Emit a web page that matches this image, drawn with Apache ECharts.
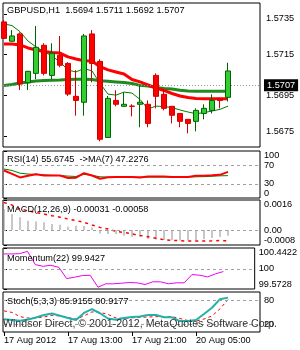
<!DOCTYPE html>
<html>
<head>
<meta charset="utf-8">
<script src="https://cdn.jsdelivr.net/npm/echarts@6/dist/echarts.min.js"></script>
<style>
  html, body { margin: 0; padding: 0; background: #fff; }
  #chart { width: 300px; height: 350px; }
</style>
</head>
<body>
<div id="chart"></div>
<script>
// GBPUSD H1 candles (index 0 = 17 Aug 05:00)
var opens  = [1.57311, 1.57216, 1.57252, 1.57012, 1.57058, 1.57196, 1.57048, 1.57147, 1.57107, 1.56945,
              1.56916, 1.57252, 1.57117, 1.56743, 1.56925, 1.56896, 1.56897, 1.56906, 1.56906, 1.57048,
              1.56955, 1.56896, 1.56861, 1.56832, 1.56822, 1.56861, 1.56876, 1.56935, 1.5694]
var closes = [1.5723, 1.57242, 1.57006, 1.57068, 1.57186, 1.57058, 1.57157, 1.57098, 1.56956, 1.56925,
              1.57242, 1.57107, 1.56734, 1.56935, 1.56906, 1.56906, 1.56896, 1.56916, 1.56812, 1.56945,
              1.56886, 1.56852, 1.56822, 1.56812, 1.56876, 1.56886, 1.56925, 1.56925, 1.5707]
var lows   = [1.57228, 1.57214, 1.56976, 1.56976, 1.57029, 1.57048, 1.57029, 1.57088, 1.56947, 1.5685,
              1.5685, 1.57014, 1.56724, 1.56743, 1.56896, 1.56896, 1.56847, 1.56793, 1.56793, 1.56886,
              1.56876, 1.56812, 1.56793, 1.56763, 1.56773, 1.56832, 1.56861, 1.56886, 1.5692]
var highs  = [1.5732, 1.57271, 1.5726, 1.5707, 1.57291, 1.57206, 1.57206, 1.57242, 1.57113, 1.57074,
              1.57252, 1.57271, 1.57127, 1.56947, 1.56975, 1.56965, 1.56906, 1.56999, 1.56925, 1.57058,
              1.5698, 1.56896, 1.56861, 1.56832, 1.56886, 1.56906, 1.56955, 1.56935, 1.5711]

// moving averages on price
var maRed = [1.57202, 1.57202, 1.57198, 1.57183, 1.57173, 1.57165, 1.57161, 1.57158, 1.57139, 1.57129,
             1.5712, 1.57119, 1.57091, 1.57075, 1.57065, 1.57055, 1.57028, 1.57016, 1.57001, 1.56986,
             1.56974, 1.56959, 1.56947, 1.56939, 1.56934, 1.56933, 1.56933, 1.56933, 1.56933]
var maGreen = [1.56998, 1.57003, 1.57011, 1.57016, 1.57021, 1.57023, 1.57024, 1.57025, 1.57028, 1.57029,
               1.57029, 1.57028, 1.57022, 1.57019, 1.57016, 1.57013, 1.57008, 1.56999, 1.56996, 1.56989,
               1.56984, 1.56981, 1.56975, 1.56971, 1.5697, 1.5697, 1.5697, 1.5697, 1.5697]
var maThin = [1.57301, 1.57293, 1.57263, 1.57217, 1.57188, 1.57166, 1.57143, 1.57114, 1.57074, 1.57065,
              1.57082, 1.5707, 1.57009, 1.56956, 1.56951, 1.56966, 1.56961, 1.5693, 1.56883, 1.56897,
              1.56895, 1.5689, 1.56878, 1.56868, 1.5686, 1.56865, 1.56873, 1.56881, 1.56897]

var rsi = [58.6, 51.3, 43.7, 47.2, 50.7, 47.8, 47.8, 47.8, 42.4, 43.1, 52.8, 47.8, 41, 44.1, 44.5,
           44.5, 44.5, 43.7, 45.8, 45.8, 45.6, 44.5, 44.5, 44.5, 47.2, 47.6, 48.2, 49.3, 55.7]
var rsiMa = [61.7, 58.6, 52.8, 50.9, 50.3, 49.3, 48.2, 47.8, 46.6, 45.8, 50.3, 48.2, 45.1, 44.5, 44.5,
             44.5, 44.5, 44.5, 44.5, 44.5, 44.5, 44.5, 44.5, 44.5, 45.1, 45.5, 46.2, 47.2, 47.6]

var macd = [0.00112, 0.00085, 0.00068, 0.0005, 0.00046, 0.00041, 0.00032, 0.00028, 0.00018, 0.00023,
            0.00021, 0.00014, -0.00018, -0.00021, -0.00021, -0.0003, -0.00036, -0.00036, -0.00048, -0.00051,
            -0.00053, -0.00053, -0.00056, -0.00056, -0.00053, -0.00048, -0.00043, -0.00037, -0.00031]
var macdSignal = [0.00147, 0.00133, 0.00112, 0.00103, 0.00093, 0.00085, 0.00076, 0.00068, 0.00059, 0.0005,
                  0.00041, 0.00027, 0.00014, 0.00005, -0.00007, -0.00013, -0.00021, -0.00029, -0.00036, -0.00044,
                  -0.00052, -0.00055, -0.00057, -0.00059, -0.00059, -0.00059, -0.00058, -0.00056, -0.00058]

var momentum = [100.316, 100.316, 100.322, 100.371, 100.09, 100.054, 100.075, 100.033, 99.794, 99.822,
                99.858, 99.864, 99.611, 99.683, 99.683, 99.696, 99.71, 99.704, 99.668, 99.725,
                99.725, 99.683, 99.704, 99.704, 99.879, 99.864, 99.83, 99.894, 99.9427]

var stochMain = [31.6, 29.8, 28.1, 31.1, 36.2, 42.6, 46.4, 40.8, 34.9, 29.8, 47.7, 57.1, 46.9, 33.7, 30.4,
                 34.9, 37.5, 38.8, 42.6, 42.6, 36.7, 36.7, 27.3, 27.3, 29.8, 45.2, 60.5, 82.1, 85.9]
var stochSignal = [52.8, 49, 38.3, 34.9, 34.9, 37.5, 41.8, 40.1, 36.2, 32.4, 40.1, 50.3, 49, 43.9, 34.9,
                   34.2, 35.5, 36.7, 37.5, 38.3, 38.3, 38.3, 33.7, 28.6, 27.3, 32.4, 40.1, 57.9, 80.9]

// axis ticks and labels
var priceTicks = [1.5675, 1.5695, 1.5715, 1.5735]
var rsiTicks = [0, 30, 70, 100]
var rsiLevels = [70, 30]
var macdTicks = [-0.0008, 0, 0.0016]
var macdTickLabels = ['-0.0008', '0.00', '0.0016']
var momTicks = [99.5728, 100, 100.4422]
var momLevels = [100]
var stochTicks = [0, 20, 80, 100]
var stochLevels = [80, 20]
var timeTicks = [0, 8, 16, 24]
var timeLabels = ['17 Aug 2012', '17 Aug 13:00', '17 Aug 21:00', '20 Aug 05:00']

var FONT = 'Liberation Sans'
var FS = 9.2

function pairs (arr) {
  return arr.map(function (v, i) { return [i, v] })
}

function levelLines (levels) {
  return {
    silent: true,
    symbol: ['none', 'none'],
    label: { show: false },
    lineStyle: { color: '#a0a0a0', type: [3, 3], width: 1 },
    data: levels.map(function (v) { return { yAxis: v } })
  }
}

function yAx (gi, min, max, ticks, fmt, margin) {
  return {
    type: 'value',
    gridIndex: gi,
    position: 'right',
    min: min,
    max: max,
    axisLine: { show: false },
    splitLine: { show: false },
    axisTick: { show: true, length: 3, customValues: ticks, lineStyle: { color: '#000' } },
    axisLabel: {
      customValues: ticks,
      formatter: fmt,
      margin: margin,
      color: '#000',
      fontFamily: FONT,
      fontSize: FS,
      verticalAlignMinLabel: 'bottom',
      verticalAlignMaxLabel: 'top'
    }
  }
}

function xAx (gi) {
  var ax = {
    type: 'value',
    gridIndex: gi,
    min: -0.125,
    max: 32,
    show: gi === 4,
    axisLine: { show: false },
    splitLine: { show: false },
    axisTick: { show: true, length: 4, customValues: timeTicks, lineStyle: { color: '#000' } },
    axisLabel: {
      customValues: timeTicks,
      formatter: function (v) { return timeLabels[timeTicks.indexOf(v)] },
      align: 'left',
      margin: 4,
      color: '#000',
      fontFamily: FONT,
      fontSize: FS
    }
  }
  return ax
}

var gridBox = { left: 3, width: 257, show: true, borderColor: '#000', borderWidth: 1, backgroundColor: '#fff' }
var grids = [
  Object.assign({ top: 3, height: 144 }, gridBox),
  Object.assign({ top: 151, height: 47 }, gridBox),
  Object.assign({ top: 200, height: 45 }, gridBox),
  Object.assign({ top: 248, height: 41 }, gridBox),
  Object.assign({ top: 292, height: 40 }, gridBox)
]

function titleAt (text, top) {
  return {
    text: text,
    left: 7,
    top: top,
    padding: 0,
    textStyle: { color: '#000', fontFamily: FONT, fontSize: FS, fontWeight: 'normal' }
  }
}

var candleData = opens.map(function (o, i) { return [i, o, closes[i], lows[i], highs[i]] })
var lastPrice = closes[closes.length - 1]

var chart = echarts.init(document.getElementById('chart'), null, { renderer: 'canvas' })
var option = {
  animation: false,
  backgroundColor: '#fff',
  title: [
    titleAt('GBPUSD,H1  1.5694 1.5711 1.5692 1.5707', 6),
    titleAt('RSI(14) 55.6745  ->MA(7) 47.2276', 155),
    titleAt('MACD(12,26,9) -0.00031 -0.00058', 205),
    titleAt('Momentum(22) 99.9427', 254),
    titleAt('Stoch(5,3,3) 85.9155 80.9177', 297)
  ],
  grid: grids,
  xAxis: [xAx(0), xAx(1), xAx(2), xAx(3), xAx(4)],
  yAxis: [
    yAx(0, 1.56696, 1.57404, priceTicks, function (v) { return v.toFixed(4) }, 6),
    yAx(1, 0, 100, rsiTicks, function (v) { return String(v) }, 4),
    yAx(2, -0.0008, 0.0016, macdTicks, function (v) { return macdTickLabels[macdTicks.indexOf(v)] }, 4),
    yAx(3, 99.5728, 100.4422, momTicks, function (v) { return v === 100 ? '100' : v.toFixed(4) }, 4),
    yAx(4, 0, 100, stochTicks, function (v) { return String(v) }, 4)
  ],
  graphic: [{
    type: 'text',
    left: 3,
    top: 319,
    z: 100,
    style: {
      text: 'Windsor Direct, © 2001-2012, MetaQuotes Software Corp.',
      fill: '#333',
      font: '10.6px "Liberation Sans"'
    }
  }],
  series: [
    { type: 'line', xAxisIndex: 0, yAxisIndex: 0, data: pairs(maGreen), symbol: 'none',
      lineStyle: { color: '#1f8a1f', width: 3 }, z: 2 },
    { type: 'line', xAxisIndex: 0, yAxisIndex: 0, data: pairs(maRed), symbol: 'none',
      lineStyle: { color: '#ff0000', width: 3 }, z: 2 },
    { type: 'line', xAxisIndex: 0, yAxisIndex: 0, data: pairs(maThin), symbol: 'none',
      lineStyle: { color: '#008000', width: 1 }, z: 2 },
    {
      type: 'candlestick',
      xAxisIndex: 0,
      yAxisIndex: 0,
      data: candleData,
      barWidth: 5,
      z: 5,
      itemStyle: {
        color: '#32cd32',
        color0: '#ff0000',
        borderColor: '#006400',
        borderColor0: '#d00000',
        borderWidth: 1
      },
      markLine: {
        silent: true,
        symbol: ['none', 'none'],
        lineStyle: { color: '#999', type: [1, 2], width: 1 },
        label: {
          show: true,
          position: 'end',
          distance: 4,
          formatter: lastPrice.toFixed(4),
          color: '#fff',
          backgroundColor: '#000',
          padding: [2, 3, 1, 3],
          fontFamily: FONT,
          fontSize: FS
        },
        data: [{ yAxis: lastPrice }]
      }
    },
    { type: 'line', xAxisIndex: 1, yAxisIndex: 1, data: pairs(rsiMa), symbol: 'none',
      lineStyle: { color: '#008000', width: 1 }, markLine: levelLines(rsiLevels) },
    { type: 'line', xAxisIndex: 1, yAxisIndex: 1, data: pairs(rsi), symbol: 'none',
      lineStyle: { color: '#ff0000', width: 2 } },
    { type: 'bar', xAxisIndex: 2, yAxisIndex: 2, data: pairs(macd), barWidth: 1,
      itemStyle: { color: '#909090' }, markLine: levelLines([0]) },
    { type: 'line', xAxisIndex: 2, yAxisIndex: 2, data: pairs(macdSignal), symbol: 'none',
      lineStyle: { color: '#ff0000', width: 1.5, type: [3, 4] } },
    { type: 'line', xAxisIndex: 3, yAxisIndex: 3, data: pairs(momentum), symbol: 'none',
      lineStyle: { color: '#ee00ee', width: 1 }, markLine: levelLines(momLevels) },
    { type: 'line', xAxisIndex: 4, yAxisIndex: 4, data: pairs(stochSignal), symbol: 'none',
      lineStyle: { color: '#ff0000', width: 1, type: [3, 3] }, markLine: levelLines(stochLevels) },
    { type: 'line', xAxisIndex: 4, yAxisIndex: 4, data: pairs(stochMain), symbol: 'none',
      lineStyle: { color: '#20b2aa', width: 2 } }
  ]
}
chart.setOption(option)
window.addEventListener('resize', function () {
  chart.resize()
})
</script>
</body>
</html>
